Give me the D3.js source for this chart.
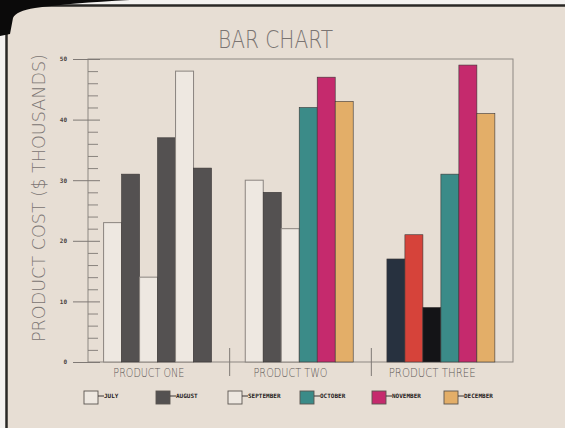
<!DOCTYPE html>
<html><head><meta charset="utf-8">
<script src="https://cdn.jsdelivr.net/npm/d3@7"></script>
<style>html,body{margin:0;padding:0;background:#f3f1ee;}svg{display:block;}</style>
</head><body>
<svg id="chart" width="565" height="428"></svg>
<script>
const months = ["JULY","AUGUST","SEPTEMBER","OCTOBER","NOVEMBER","DECEMBER"];
const products = ["PRODUCT ONE","PRODUCT TWO","PRODUCT THREE"];
const productOne = [23, 31, 14, 37, 48, 32];
const productTwo = [30, 28, 22, 42, 47, 43];
const productThree = [17, 21, 9, 31, 49, 41];
const yTicks = [0, 10, 20, 30, 40, 50];
const chartTitle = "BAR CHART";
const yTitle = "PRODUCT COST ($ THOUSANDS)";

(function () {
// styles (kept apart from the data)
const WHITE = "#eee8e1", GRAY = "#545151", TEAL = "#3b8b88", MAG = "#c52a6d",
      ORANGE = "#e3ae68", NAVY = "#27313f", RED = "#d6433a", BLACK = "#141417";
const barColors = [
  [WHITE, GRAY, WHITE, GRAY, WHITE, GRAY],
  [WHITE, GRAY, WHITE, TEAL, MAG, ORANGE],
  [NAVY, RED, BLACK, TEAL, MAG, ORANGE]
];
const legendColors = [WHITE, GRAY, WHITE, TEAL, MAG, ORANGE];
const series = [productOne, productTwo, productThree];

const svg = d3.select("#chart");
const BG = "#e7ded4";
const INK = "#7a7472";
const FONT = "'DejaVu Sans Mono', monospace";
const THIN = "'DejaVu Sans', sans-serif";

// photo frame
svg.append("rect").attr("x", 0).attr("y", 0).attr("width", 565).attr("height", 428).attr("fill", "#f4f2f0");
svg.append("rect").attr("x", 7).attr("y", 6).attr("width", 558).attr("height", 422).attr("fill", BG);
svg.append("line").attr("x1", 0).attr("x2", 565).attr("y1", 5.5).attr("y2", 5.5).attr("stroke", "#2a2826").attr("stroke-width", 2.5);
svg.append("line").attr("x1", 6.5).attr("x2", 6.5).attr("y1", 0).attr("y2", 428).attr("stroke", "#2a2826").attr("stroke-width", 2.5);
svg.append("path").attr("d", "M0,0 L130,0 Q70,3 35,8 Q16,11 13,18 L10,34 L0,36 Z").attr("fill", "#0b0a0a");

const mLeft = 88, mRight = 513, mTop = 59, mBottom = 362;
const x0 = d3.scaleBand().domain(products).range([mLeft, mRight]).padding(0);
const bw = x0.bandwidth();
const x1 = d3.scaleBand().domain(months).range([bw * 0.11, bw * 0.872]).padding(0);
const y = d3.scaleLinear().domain([0, 50]).range([mBottom, mTop]);

// plot frame
svg.append("rect").attr("x", mLeft).attr("y", mTop).attr("width", mRight - mLeft).attr("height", mBottom - mTop)
  .attr("fill", "none").attr("stroke", "#8d8782").attr("stroke-width", 1);

// minor ticks
const minor = d3.range(0, 51, 2).filter(v => v % 10 !== 0);
svg.append("g").attr("transform", `translate(${mLeft},0)`)
  .call(d3.axisLeft(y).tickValues(minor).tickSize(-10).tickFormat(""))
  .call(g => g.select(".domain").remove())
  .call(g => g.selectAll("line").attr("stroke", "#7f7975").attr("stroke-width", 0.9));

// major ticks + labels
svg.append("g").attr("transform", `translate(${mLeft},0)`)
  .call(d3.axisLeft(y).tickValues(yTicks).tickSize(15).tickPadding(6).tickFormat(d3.format("d")))
  .call(g => g.select(".domain").remove())
  .call(g => g.selectAll("line").attr("x1", 12).attr("stroke", "#7f7975").attr("stroke-width", 1))
  .call(g => g.selectAll("text").attr("font-family", FONT).attr("font-size", 6).attr("font-weight", "bold").attr("fill", "#4a4442"));

// bars
const groups = svg.append("g").selectAll("g").data(products).join("g")
  .attr("transform", d => `translate(${x0(d)},0)`);
groups.each(function(p, gi) {
  d3.select(this).selectAll("rect").data(months).join("rect")
    .attr("x", m => x1(m))
    .attr("width", x1.bandwidth())
    .attr("y", (m, i) => y(series[gi][i]))
    .attr("height", (m, i) => y(0) - y(series[gi][i]))
    .attr("fill", (m, i) => barColors[gi][i])
    .attr("stroke", (m, i) => barColors[gi][i] === WHITE ? "#8a847f" : "#3a3636")
    .attr("stroke-width", (m, i) => barColors[gi][i] === WHITE ? 1 : 0.6);
});

// group separators
products.slice(1).forEach(p => {
  svg.append("line").attr("x1", x0(p)).attr("x2", x0(p)).attr("y1", 348).attr("y2", 376)
    .attr("stroke", "#7f7975").attr("stroke-width", 1);
});

// category labels
const catWidths = [71, 74, 87];
svg.append("g").selectAll("text").data(products).join("text")
  .attr("x", d => x0(d) + bw / 2 - 10).attr("y", 377)
  .attr("text-anchor", "middle")
  .attr("font-family", THIN).attr("font-weight", 200).attr("font-size", 12).attr("fill", "#5e5856")
  .attr("textLength", (d, i) => catWidths[i]).attr("lengthAdjust", "spacingAndGlyphs")
  .text(d => d);

// title
svg.append("text").attr("x", 275.5).attr("y", 48).attr("text-anchor", "middle")
  .attr("font-family", THIN).attr("font-weight", 200).attr("font-size", 24).attr("fill", INK)
  .attr("textLength", 115).attr("lengthAdjust", "spacingAndGlyphs")
  .text(chartTitle);

// y title
svg.append("text").attr("transform", "translate(45,198) rotate(-90)")
  .attr("text-anchor", "middle")
  .attr("font-family", THIN).attr("font-weight", 200).attr("font-size", 18).attr("fill", INK)
  .attr("textLength", 288).attr("lengthAdjust", "spacingAndGlyphs")
  .text(yTitle);

// legend
const leg = svg.append("g").selectAll("g").data(months).join("g")
  .attr("transform", (d, i) => `translate(${84 + i * 72},391)`);
leg.append("rect").attr("width", 14).attr("height", 13)
  .attr("fill", (d, i) => legendColors[i]).attr("stroke", "#5a5450").attr("stroke-width", 0.9);
leg.append("line").attr("x1", 14).attr("x2", 20).attr("y1", 5).attr("y2", 5).attr("stroke", "#3a3534");
leg.append("text").attr("x", 20).attr("y", 7)
  .attr("font-family", FONT).attr("font-size", 6).attr("font-weight", "bold").attr("fill", "#1f1b1b")
  .text(d => d);
})();
</script>
</body></html>
